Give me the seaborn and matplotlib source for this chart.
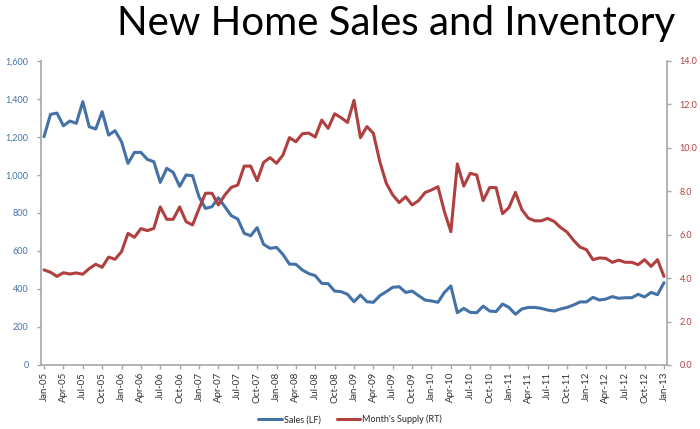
import numpy as np
import pandas as pd
import matplotlib
matplotlib.use("Agg")
import matplotlib.pyplot as plt
import seaborn as sns
from matplotlib.ticker import FuncFormatter

months = ["Jan", "Feb", "Mar", "Apr", "May", "Jun", "Jul", "Aug", "Sep", "Oct", "Nov", "Dec"]
dates = [f"{months[i % 12]}-{5 + i // 12:02d}" for i in range(97)]

sales = [1202, 1319, 1326, 1259, 1284, 1272, 1386, 1254, 1242, 1333, 1210, 1233,
         1175, 1061, 1119, 1119, 1082, 1070, 961, 1035, 1014, 940, 1000, 996,
         885, 824, 833, 880, 833, 786, 768, 693, 680, 723, 635, 614,
         619, 582, 531, 530, 500, 481, 470, 430, 428, 389, 386, 372,
         333, 368, 333, 330, 365, 386, 409, 412, 382, 389, 365, 342,
         337, 330, 382, 416, 275, 298, 277, 275, 310, 284, 281, 321,
         303, 267, 295, 303, 303, 298, 289, 284, 295, 303, 316, 332,
         332, 356, 342, 347, 360, 351, 354, 354, 372, 358, 382, 370,
         433]

supply = [4.38, 4.27, 4.08, 4.25, 4.19, 4.24, 4.18, 4.44, 4.64, 4.50, 4.97, 4.87,
          5.22, 6.06, 5.88, 6.28, 6.19, 6.29, 7.28, 6.71, 6.71, 7.28, 6.60, 6.45,
          7.20, 7.91, 7.91, 7.37, 7.83, 8.18, 8.29, 9.16, 9.16, 8.49, 9.33, 9.55,
          9.29, 9.67, 10.47, 10.28, 10.65, 10.68, 10.50, 11.28, 10.90, 11.57, 11.39, 11.17,
          12.19, 10.47, 10.98, 10.67, 9.36, 8.37, 7.83, 7.48, 7.75, 7.37, 7.57, 7.94,
          8.06, 8.21, 7.06, 6.14, 9.26, 8.24, 8.83, 8.75, 7.57, 8.17, 8.17, 6.97,
          7.25, 7.95, 7.15, 6.76, 6.64, 6.64, 6.75, 6.61, 6.33, 6.12, 5.74, 5.43,
          5.31, 4.85, 4.93, 4.91, 4.73, 4.83, 4.73, 4.73, 4.62, 4.85, 4.54, 4.85,
          4.08]

tick_labels = dates[::3]

df = pd.DataFrame({"idx": np.arange(len(dates)), "date": dates,
                   "Sales (LF)": sales, "Month's Supply (RT)": supply})

sns.set_theme(style="white")
plt.rcParams['font.family'] = ['Lato', 'DejaVu Sans']

blue = "#4471A8"
red = "#B0403F"
axis_gray = "#A6A6A6"

fig = plt.figure(figsize=(7, 4.29), dpi=100)
ax = fig.add_axes([41 / 700, 1 - 365 / 429, (667 - 41) / 700, (365 - 61) / 429])
ax2 = ax.twinx()

sns.lineplot(data=df, x="idx", y="Sales (LF)", ax=ax, color=blue, linewidth=2.2,
             label="Sales (LF)", legend=False)
sns.lineplot(data=df, x="idx", y="Month's Supply (RT)", ax=ax2, color=red, linewidth=2.2,
             label="Month's Supply (RT)", legend=False)

ax.set_xlim(-0.47, 96.47)
ax.set_ylim(0, 1600)
ax2.set_ylim(0, 14)
ax.set_yticks(np.arange(0, 1601, 200))
ax2.set_yticks(np.arange(0, 14.1, 2))
ax.yaxis.set_major_formatter(FuncFormatter(lambda v, p: f"{int(v):,}"))
ax2.yaxis.set_major_formatter(FuncFormatter(lambda v, p: f"{v:.1f}"))
ax.set_xticks(np.arange(0, 97, 3))
ax.set_xticklabels(tick_labels, rotation=90, fontsize=7, color="#333333")

ax.set_xlabel("")
ax.set_ylabel("")
ax2.set_ylabel("")

for a in (ax, ax2):
    for s in a.spines.values():
        s.set_visible(False)
    a.grid(False)
ax.spines['left'].set_visible(True)
ax.spines['bottom'].set_visible(True)
ax2.spines['right'].set_visible(True)
for s in (ax.spines['left'], ax.spines['bottom'], ax2.spines['right']):
    s.set_color(axis_gray)
    s.set_linewidth(1.2)

ax.tick_params(axis='y', colors=blue, labelsize=6.5, length=3, width=1, direction='out', left=True, pad=6)
ax.tick_params(axis='y', which='both', color=axis_gray)
ax.tick_params(axis='x', length=3, width=1, color=axis_gray, bottom=True, pad=2)
ax2.tick_params(axis='y', colors=red, labelsize=6.5, length=3, width=1, direction='out', right=True, pad=6)
ax2.tick_params(axis='y', which='both', color=axis_gray)

fig.suptitle("New Home Sales and Inventory", x=0.566, y=0.988, fontsize=29, color="black",
             va="top", family=['Lato', 'DejaVu Sans'])

h1, l1 = ax.get_legend_handles_labels()
h2, l2 = ax2.get_legend_handles_labels()
fig.legend(h1 + h2, l1 + l2, loc="center", bbox_to_anchor=(0.50, 0.022), ncol=2,
           frameon=False, fontsize=6.5, handlelength=2.6, columnspacing=1.8, handletextpad=0.2)

fig.savefig("out.png", dpi=100)
